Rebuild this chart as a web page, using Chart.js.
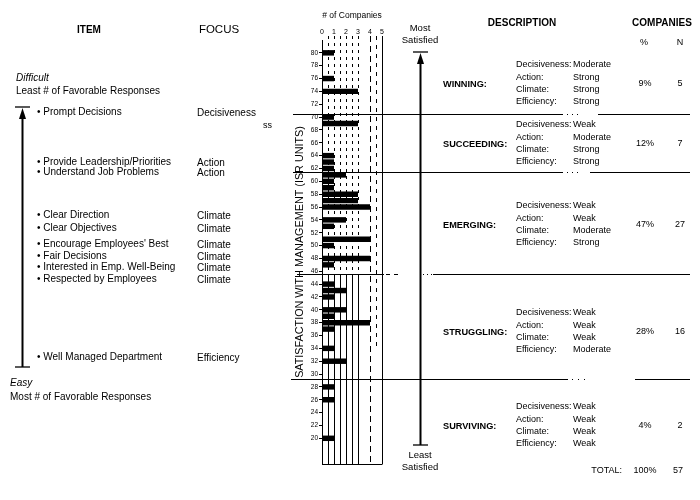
<!DOCTYPE html>
<html><head><meta charset="utf-8">
<script src="https://cdn.jsdelivr.net/npm/chart.js@4.4.0/dist/chart.umd.min.js"></script>
<style>html,body{margin:0;padding:0;background:#fff}canvas{display:block}</style>
</head><body>
<canvas id="c" width="700" height="500"></canvas>
<script>
// ---------- DATA ----------
const scores = [80,76,74,70,69,64,63,62,61,60,59,58,57,56,54,53,51,50,48,47,44,43,42,40,39,38,37,34,32,28,26,20];
const counts = [1,1,3,1,3,1,1,1,2,1,1,3,3,4,2,1,4,1,4,1,1,2,1,2,1,4,1,1,2,1,1,1];
const yTicks = [20,22,24,26,28,30,32,34,36,38,40,42,44,46,48,50,52,54,56,58,60,62,64,66,68,70,72,74,76,78,80];
const xTicks = [0,1,2,3,4,5];
const groupCutoffs = [70.5, 61.5, 45.5, 29.2];
const groupNames = ['WINNING:','SUCCEEDING:','EMERGING:','STRUGGLING:','SURVIVING:'];
const groupPct = ['9%','12%','47%','28%','4%'];
const groupN = ['5','7','27','16','2'];
const dimensions = ['Decisiveness:','Action:','Climate:','Efficiency:'];
const groupRatings = [
  ['Moderate','Strong','Strong','Strong'],
  ['Weak','Moderate','Strong','Strong'],
  ['Weak','Weak','Moderate','Strong'],
  ['Weak','Weak','Weak','Moderate'],
  ['Weak','Weak','Weak','Weak']
];
const items = ['Prompt Decisions','Provide Leadership/Priorities','Understand Job Problems','Clear Direction','Clear Objectives',
  "Encourage Employees' Best",'Fair Decisions','Interested in Emp. Well-Being','Respected by Employees','Well Managed Department'];
const itemFocus = ['Decisiveness','Action','Action','Climate','Climate','Climate','Climate','Climate','Climate','Efficiency'];
const totalLabel = 'TOTAL:', totalPct = '100%', totalN = '57';

// ---------- LAYOUT ----------
const FONT = '"Liberation Sans", Arial, Helvetica, sans-serif';
const itemY = [112,162,172,215,228,244,256,267,279,357];
const groupTopY = [65,125,206,313,407];
const LINE_GAP = 12.3;

Chart.defaults.font.family = FONT;
Chart.defaults.color = '#000';

function txt(ctx, s, x, y, size, opts) {
  opts = opts || {};
  ctx.font = (opts.italic ? 'italic ' : '') + (opts.bold ? 'bold ' : '') + size + 'px ' + FONT;
  ctx.textAlign = opts.align || 'left';
  ctx.textBaseline = 'middle';
  ctx.fillStyle = '#000';
  ctx.fillText(s, x, y);
}
function line(ctx, x1, y1, x2, y2, w, dash) {
  ctx.save();
  ctx.beginPath();
  ctx.lineWidth = w || 1;
  ctx.strokeStyle = '#000';
  ctx.setLineDash(dash || []);
  ctx.moveTo(x1, y1); ctx.lineTo(x2, y2);
  ctx.stroke();
  ctx.restore();
}
function arrowUp(ctx, x, yTop, yBot) {
  line(ctx, x - 7.5, yTop, x + 7.5, yTop, 1.3);
  line(ctx, x - 7.5, yBot, x + 7.5, yBot, 1.3);
  line(ctx, x, yTop + 6, x, yBot, 2);
  ctx.beginPath();
  ctx.moveTo(x, yTop + 1); ctx.lineTo(x - 3.5, yTop + 12); ctx.lineTo(x + 3.5, yTop + 12); ctx.closePath();
  ctx.fillStyle = '#000'; ctx.fill();
}

const gridPlugin = {
  id: 'gridPlugin',
  beforeDatasetsDraw(chart) {
    const {ctx, scales: {x, y}, chartArea} = chart;
    const top = chartArea.top - 4, bottom = chartArea.bottom;
    const split = y.getPixelForValue(groupCutoffs[2]);
    [0.5,1,1.5,2,2.5,3].forEach(v => {
      const px = Math.round(x.getPixelForValue(v)) + 0.5;
      line(ctx, px, top, px, split, 1, [3,4]);
      line(ctx, px, split, px, bottom, 1);
    });
    const p4 = Math.round(x.getPixelForValue(4)) + 0.5;
    line(ctx, p4, top, p4, bottom, 1, [6,4]);
    const p45 = Math.round(x.getPixelForValue(4.5)) + 0.5;
    line(ctx, p45, top, p45, y.getPixelForValue(34), 1, [4,5]);
    const p5 = Math.round(x.getPixelForValue(5)) + 0.5;
    line(ctx, p5, top, p5, bottom, 1);
    line(ctx, x.getPixelForValue(0), bottom + 0.5, p5, bottom + 0.5, 1);
  },
  afterDraw(chart) {
    const {ctx, scales: {y}} = chart;
    // headers
    txt(ctx, 'ITEM', 89, 30, 10, {bold: true, align: 'center'});
    txt(ctx, 'FOCUS', 219, 30, 11.5, {align: 'center'});
    txt(ctx, 'DESCRIPTION', 522, 23, 10, {bold: true, align: 'center'});
    txt(ctx, 'COMPANIES', 662, 23, 10, {bold: true, align: 'center'});
    txt(ctx, '%', 644, 43, 9, {align: 'center'});
    txt(ctx, 'N', 680, 43, 9, {align: 'center'});
    // left side
    txt(ctx, 'Difficult', 16, 78, 10, {italic: true});
    txt(ctx, 'Least # of Favorable Responses', 16, 91, 10);
    items.forEach((s, i) => {
      txt(ctx, '\u2022 ' + s, 37, itemY[i], 10);
      txt(ctx, itemFocus[i], 197, itemY[i] + 1, 10);
    });
    txt(ctx, 'ss', 263, 126, 9);
    txt(ctx, 'Easy', 10, 383, 10, {italic: true});
    txt(ctx, 'Most # of Favorable Responses', 10, 397, 10);
    arrowUp(ctx, 22.5, 107, 367);
    // right arrow
    txt(ctx, 'Most', 420, 28, 9.5, {align: 'center'});
    txt(ctx, 'Satisfied', 420, 40, 9.5, {align: 'center'});
    arrowUp(ctx, 420.5, 52, 445);
    txt(ctx, 'Least', 420, 455, 9.5, {align: 'center'});
    txt(ctx, 'Satisfied', 420, 467, 9.5, {align: 'center'});
    // divider lines from the y scale
    const yl = groupCutoffs.map(v => Math.round(y.getPixelForValue(v)) + 0.5);
    line(ctx, 293, yl[0], 563, yl[0], 1);
    line(ctx, 567, yl[0], 582, yl[0], 1, [1,4]);
    line(ctx, 598, yl[0], 690, yl[0], 1);
    line(ctx, 293, yl[1], 563, yl[1], 1);
    line(ctx, 567, yl[1], 582, yl[1], 1, [1,4]);
    line(ctx, 590, yl[1], 690, yl[1], 1);
    line(ctx, 297, yl[2], 384, yl[2], 1);
    line(ctx, 386, yl[2], 398, yl[2], 1, [4,4]);
    line(ctx, 423, yl[2], 432, yl[2], 1, [1,3]);
    line(ctx, 433, yl[2], 690, yl[2], 1);
    line(ctx, 291, yl[3], 568, yl[3], 1);
    line(ctx, 572, yl[3], 585, yl[3], 1, [1,5]);
    line(ctx, 635, yl[3], 690, yl[3], 1);
    // group descriptions
    groupNames.forEach((g, i) => {
      const t = groupTopY[i];
      const mid = t + 19;
      txt(ctx, g, 443, mid, 9.2, {bold: true});
      dimensions.forEach((d, j) => {
        txt(ctx, d, 516, t + j * LINE_GAP, 9);
        txt(ctx, groupRatings[i][j], 573, t + j * LINE_GAP, 9);
      });
      txt(ctx, groupPct[i], 645, mid, 9, {align: 'center'});
      txt(ctx, groupN[i], 680, mid, 9, {align: 'center'});
    });
    txt(ctx, totalLabel, 622, 471, 9, {align: 'right'});
    txt(ctx, totalPct, 645, 471, 9, {align: 'center'});
    txt(ctx, totalN, 678, 471, 9, {align: 'center'});
  }
};

new Chart(document.getElementById('c'), {
  type: 'bar',
  data: {
    datasets: [{
      data: scores.map((s, i) => ({x: counts[i], y: s})),
      backgroundColor: '#000',
      borderWidth: 0,
      barPercentage: 0.85,
      categoryPercentage: 1
    }]
  },
  options: {
    responsive: false,
    animation: false,
    devicePixelRatio: 1,
    indexAxis: 'y',
    layout: {padding: {left: 293, right: 318, top: 0, bottom: 36}},
    plugins: {legend: {display: false}, tooltip: {enabled: false}},
    scales: {
      x: {
        type: 'linear', position: 'top', min: 0, max: 5, offset: false,
        afterBuildTicks: s => { s.ticks = xTicks.map(v => ({value: v})); },
        ticks: {font: {size: 7}, padding: -4, maxRotation: 0, autoSkip: false},
        grid: {display: false},
        border: {display: false},
        title: {display: true, text: '# of Companies', font: {size: 8.5}, padding: {top: 11, bottom: 0}},
        afterFit: s => { s.height = 40; s.paddingLeft = 0; s.paddingRight = 0; }
      },
      y: {
        type: 'linear', min: 16, max: 82, offset: false,
        afterBuildTicks: s => { s.ticks = yTicks.map(v => ({value: v})); },
        ticks: {font: {size: 6.5}, padding: 1, autoSkip: false},
        grid: {drawOnChartArea: false, drawTicks: true, tickLength: 3, color: '#000', offset: false},
        border: {display: true, color: '#000', width: 1},
        title: {display: true, text: 'SATISFACTION WITH MANAGEMENT (ISR UNITS)', font: {size: 10.8}, padding: {top: 1, bottom: 0}},
        afterFit: s => { s.width = 29; s.paddingTop = 0; s.paddingBottom = 0; }
      }
    }
  },
  plugins: [gridPlugin]
});
</script>
</body></html>
